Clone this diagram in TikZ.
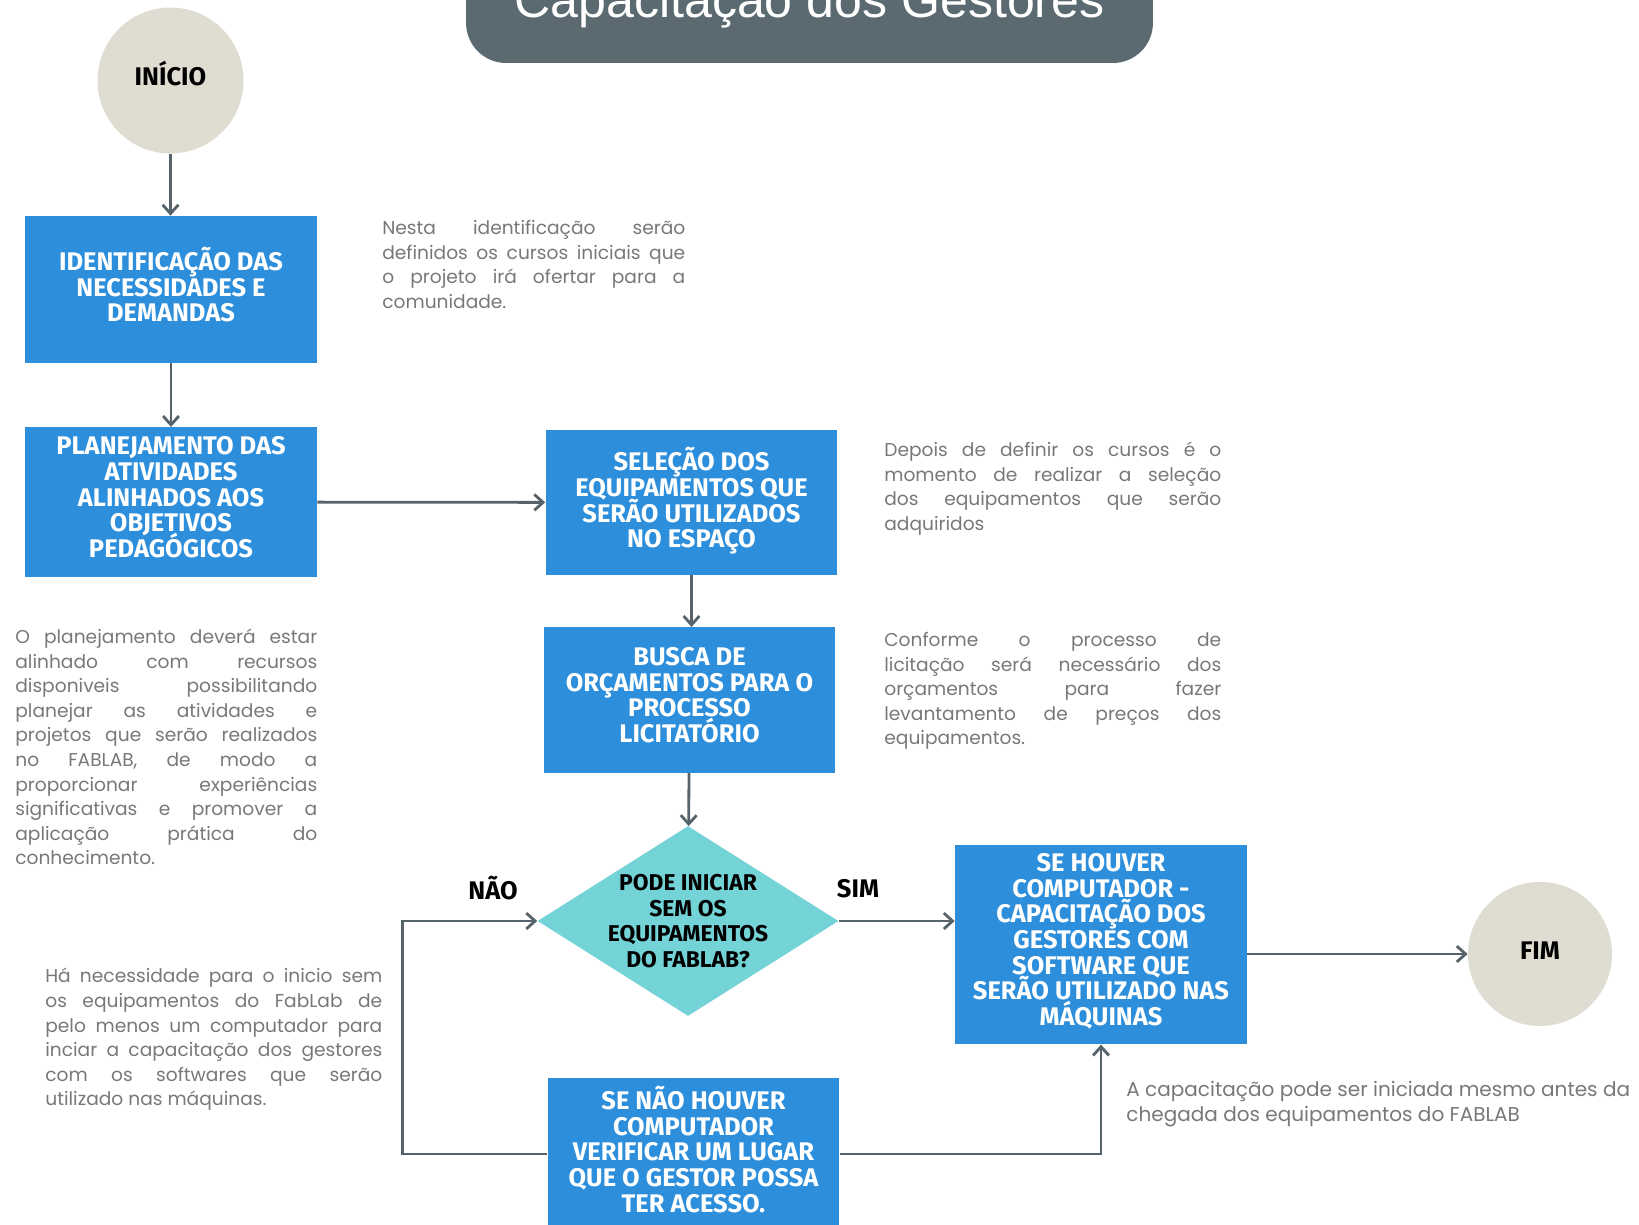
\documentclass[tikz,border=0pt]{standalone}
\usepackage{fontspec}
\setmainfont{Poppins}
\newfontfamily\boxfont{Fira Sans}
\newfontfamily\titlefont{Liberation Sans}
\usetikzlibrary{arrows.meta,shapes.geometric}
\definecolor{boxblue}{HTML}{2D8FDB}
\definecolor{diateal}{HTML}{74D3D6}
\definecolor{circgray}{HTML}{DFDDD1}
\definecolor{headgray}{HTML}{5B6A70}
\definecolor{linegray}{HTML}{56636A}
\definecolor{notegray}{HTML}{787878}
\hyphenpenalty=10000
\exhyphenpenalty=10000
\lineskiplimit=-20pt

\begin{document}
\begin{tikzpicture}[x=0.02cm,y=-0.02cm,
  box/.style={fill=boxblue,minimum width=5.84cm,inner sep=0pt,align=center,text=white,text depth=0.2cm,font=\boxfont\bfseries\fontsize{14.5}{14.6}\selectfont},
  circ/.style={circle,fill=circgray,minimum size=2.92cm,inner sep=0pt,font=\boxfont\bfseries\fontsize{14.5}{14.6}\selectfont},
  dia/.style={diamond,fill=diateal,minimum width=6.02cm,minimum height=3.8cm,inner sep=0pt},
  lbl/.style={inner sep=0pt,align=center,font=\boxfont\bfseries\fontsize{14.5}{14.6}\selectfont},
  note/.style={anchor=north west,inner sep=0pt,align=justify,text=notegray,font=\fontsize{10.6}{14}\selectfont},
  arr/.style={draw=linegray,line width=1.6pt,-{Straight Barb[length=5pt,width=9pt]}}]
\useasboundingbox (0,0) rectangle (1639,1224);
\clip (0,0) rectangle (1639,1224);
% header
\node[fill=headgray,rounded corners=0.8cm,minimum width=13.74cm,minimum height=2.52cm] (head) at (809.5,0) {};
\node[anchor=base,text=white,font=\titlefont\fontsize{28.5}{30}\selectfont] (title) at (809.5,17) {Capacitação dos Gestores};
% flow
\node[circ,text depth=0.29cm] (ini) at (170.5,80.5) {INÍCIO};
\node[box,minimum height=2.94cm] (b1) at (171,289.5) {IDENTIFICAÇÃO DAS\\NECESSIDADES E\\DEMANDAS};
\node[box,minimum height=2.99cm] (b2) at (171,502) {PLANEJAMENTO DAS\\ATIVIDADES\\ALINHADOS AOS\\OBJETIVOS\\PEDAGÓGICOS};
\node[box,minimum height=2.9cm] (b3) at (691.5,502.5) {SELEÇÃO DOS\\EQUIPAMENTOS QUE\\SERÃO UTILIZADOS\\NO ESPAÇO};
\node[box,minimum height=2.91cm] (b4) at (689.5,700) {BUSCA DE\\ORÇAMENTOS PARA O\\PROCESSO\\LICITATÓRIO};
\node[dia] (dec) at (688,921) {};
\node[lbl,font=\boxfont\bfseries\fontsize{13}{14.6}\selectfont] (dect) at (dec.center) {PODE INICIAR\\SEM OS\\EQUIPAMENTOS\\DO FABLAB?};
\node[box,minimum height=3.99cm] (b5) at (1101,944.5) {SE HOUVER\\COMPUTADOR -\\CAPACITAÇÃO DOS\\GESTORES COM\\SOFTWARE QUE\\SERÃO UTILIZADO NAS\\MÁQUINAS};
\node[box,minimum height=3.04cm] (b6) at (693.5,1154) {SE NÃO HOUVER\\COMPUTADOR\\VERIFICAR UM LUGAR\\QUE O GESTOR POSSA\\TER ACESSO.};
\node[circ,minimum size=2.88cm,text depth=0.12cm] (fim) at (1540,954) {FIM};
\node[lbl] (nao) at (493,888) {NÃO};
\node[lbl] (sim) at (858,889) {SIM};
% connectors
\draw[arr] (ini.south) -- (ini.south |- b1.north);
\draw[arr] (b1) -- (b2);
\draw[arr] (b2) -- (b3);
\draw[arr] (b3.south) -- (b3.south |- b4.north);
\draw[arr] (b4) -- (dec);
\draw[arr] (dec.east) -- (dec.east -| b5.west);
\draw[arr] (fim.west -| b5.east) -- (fim.west);
\draw[arr] (b6.west) -- ++(-145,0) |- (dec.west);
\draw[arr] (b6.east) -| (b5.south);
% notes
\node[note,text width=6.06cm] (n1) at (382,220) {Nesta identificação serão\linebreak definidos os cursos iniciais que\linebreak o projeto irá ofertar para a\linebreak comunidade.};
\node[note,text width=6.74cm] (n2) at (884,441.5) {Depois de definir os cursos é o\linebreak momento de realizar a seleção\linebreak dos equipamentos que serão\linebreak adquiridos};
\node[note,text width=6.74cm] (n3) at (884,632) {Conforme o processo de\linebreak licitação será necessário dos\linebreak orçamentos para fazer\linebreak levantamento de preços dos\linebreak equipamentos.};
\node[note,text width=6.04cm] (n4) at (15,628.6) {O planejamento deverá estar\linebreak alinhado com recursos\linebreak disponiveis possibilitando\linebreak planejar as atividades e\linebreak projetos que serão realizados\linebreak no FABLAB, de modo a\linebreak proporcionar experiências\linebreak significativas e promover a\linebreak aplicação prática do\linebreak conhecimento.};
\node[note,text width=6.74cm] (n5) at (45,968) {Há necessidade para o inicio sem\linebreak os equipamentos do FabLab de\linebreak pelo menos um computador para\linebreak inciar a capacitação dos gestores\linebreak com os softwares que serão\linebreak utilizado nas máquinas.};
\node[note,align=left,font=\fontsize{11.4}{14}\selectfont] (n6) at (1126,1081) {A capacitação pode ser iniciada mesmo antes da\\chegada dos equipamentos do FABLAB};
\end{tikzpicture}
\end{document}
